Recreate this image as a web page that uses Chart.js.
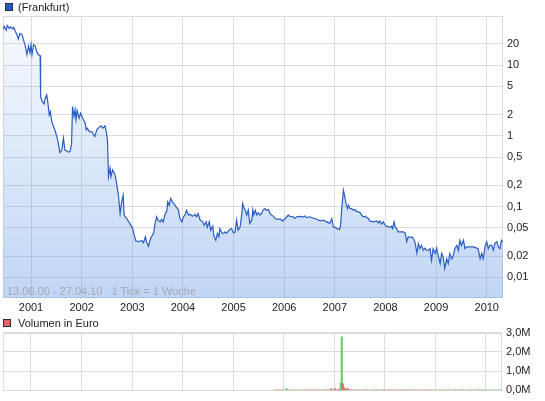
<!DOCTYPE html>
<html lang="de">
<head>
<meta charset="UTF-8">
<title>(Frankfurt)</title>
<script src="https://cdn.jsdelivr.net/npm/chart.js"></script>
<style>
  body { margin: 0; width: 545px; height: 401px; background: #fff; position: relative; overflow: hidden;
         font-family: "Liberation Sans", Arial, sans-serif; }
  canvas { position: absolute; left: 0; }
  #c1 { top: 0; }
  #c2 { top: 316px; }
  .lg { position: absolute; left: 18px; font-size: 11px; line-height: 12px; color: #222; }
  .box { position: absolute; width: 6px; height: 6px; border: 1px solid #2a2a3a; }
  #note { position: absolute; left: 7px; top: 285px; font-size: 11px; line-height: 12px; color: #a3a8b0; white-space: pre; }
</style>
</head>
<body>
<canvas id="c1" width="545" height="316"></canvas>
<canvas id="c2" width="545" height="85"></canvas>
<div class="box" style="left:5px; top:3px; background:#1f5cc4;"></div>
<div class="lg" style="top:1px;">(Frankfurt)</div>
<div class="box" style="left:3px; top:319px; background:#e06666;"></div>
<div class="lg" style="top:317px;">Volumen in Euro</div>
<div id="note">13.06.00 - 27.04.10   1 Tick = 1 Woche</div>

<script>
// x range of both panels (decimal years, 13.06.2000 .. 27.04.2010)
const xMin = 2000.447;
const xMax = 2010.321;
const yearTicks = [2001, 2002, 2003, 2004, 2005, 2006, 2007, 2008, 2009, 2010];
const priceTicks = [0.01, 0.02, 0.05, 0.1, 0.2, 0.5, 1, 2, 5, 10, 20];

// weekly closing price
const priceYears = [
  2000.45, 2000.47, 2000.51, 2000.53, 2000.57, 2000.60, 2000.64, 2000.66, 2000.69, 2000.72,
  2000.75, 2000.78, 2000.82, 2000.85, 2000.88, 2000.92, 2000.95, 2000.98, 2001.00, 2001.02,
  2001.05, 2001.08, 2001.11, 2001.14, 2001.18, 2001.19, 2001.22, 2001.26, 2001.28, 2001.31,
  2001.33, 2001.36, 2001.38, 2001.41, 2001.44, 2001.47, 2001.51, 2001.54, 2001.57, 2001.61,
  2001.64, 2001.67, 2001.70, 2001.74, 2001.77, 2001.80, 2001.82, 2001.85, 2001.87, 2001.89,
  2001.91, 2001.95, 2001.98, 2002.02, 2002.07, 2002.09, 2002.11, 2002.15, 2002.20, 2002.24,
  2002.26, 2002.30, 2002.33, 2002.38, 2002.42, 2002.46, 2002.48, 2002.51, 2002.53, 2002.56,
  2002.58, 2002.61, 2002.65, 2002.68, 2002.70, 2002.73, 2002.76, 2002.79, 2002.82, 2002.84,
  2002.89, 2002.95, 2003.01, 2003.03, 2003.07, 2003.12, 2003.19, 2003.22, 2003.26, 2003.28,
  2003.32, 2003.35, 2003.38, 2003.42, 2003.45, 2003.48, 2003.51, 2003.55, 2003.58, 2003.61,
  2003.65, 2003.68, 2003.70, 2003.73, 2003.76, 2003.80, 2003.82, 2003.86, 2003.91, 2003.94,
  2003.98, 2004.01, 2004.04, 2004.07, 2004.11, 2004.14, 2004.19, 2004.24, 2004.27, 2004.30,
  2004.34, 2004.39, 2004.42, 2004.46, 2004.48, 2004.52, 2004.55, 2004.59, 2004.61, 2004.65,
  2004.68, 2004.71, 2004.73, 2004.77, 2004.80, 2004.83, 2004.86, 2004.90, 2004.93, 2004.96,
  2005.00, 2005.03, 2005.06, 2005.09, 2005.13, 2005.16, 2005.18, 2005.21, 2005.23, 2005.26,
  2005.29, 2005.32, 2005.36, 2005.38, 2005.40, 2005.43, 2005.46, 2005.49, 2005.52, 2005.55,
  2005.59, 2005.62, 2005.65, 2005.69, 2005.72, 2005.75, 2005.79, 2005.82, 2005.85, 2005.92,
  2005.97, 2006.02, 2006.05, 2006.08, 2006.11, 2006.18, 2006.21, 2006.25, 2006.31, 2006.38,
  2006.41, 2006.44, 2006.51, 2006.58, 2006.61, 2006.64, 2006.71, 2006.77, 2006.84, 2006.90,
  2006.94, 2006.97, 2007.00, 2007.04, 2007.09, 2007.11, 2007.14, 2007.17, 2007.19, 2007.22,
  2007.25, 2007.27, 2007.30, 2007.33, 2007.37, 2007.40, 2007.43, 2007.46, 2007.50, 2007.53,
  2007.56, 2007.60, 2007.63, 2007.66, 2007.69, 2007.76, 2007.83, 2007.86, 2007.89, 2007.92,
  2007.96, 2007.99, 2008.02, 2008.06, 2008.09, 2008.12, 2008.14, 2008.17, 2008.19, 2008.22,
  2008.25, 2008.29, 2008.35, 2008.39, 2008.42, 2008.45, 2008.48, 2008.52, 2008.55, 2008.58,
  2008.62, 2008.65, 2008.68, 2008.71, 2008.75, 2008.78, 2008.81, 2008.85, 2008.88, 2008.91,
  2008.94, 2008.98, 2009.01, 2009.04, 2009.08, 2009.11, 2009.14, 2009.17, 2009.21, 2009.24,
  2009.27, 2009.31, 2009.34, 2009.37, 2009.41, 2009.44, 2009.47, 2009.50, 2009.54, 2009.57,
  2009.60, 2009.67, 2009.74, 2009.80, 2009.83, 2009.87, 2009.90, 2009.93, 2009.97, 2010.00,
  2010.03, 2010.06, 2010.10, 2010.13, 2010.16, 2010.20, 2010.23, 2010.26, 2010.29, 2010.32
];
const priceValues = [
  31.9, 35.5, 31.2, 36.3, 33.2, 34.8, 32.6, 34.0, 30.2, 27.1,
  23.4, 28.0, 27.1, 23.0, 19.5, 14.1, 18.5, 14.9, 19.5, 14.1,
  19.5, 18.9, 15.7, 14.1, 13.6, 3.6, 3.07, 2.84, 3.42, 3.8,
  3.07, 1.99, 2.21, 1.60, 1.39, 1.22, 0.98, 0.79, 0.58, 0.63,
  0.93, 0.63, 0.62, 0.59, 0.60, 0.75, 2.60, 1.88, 2.34, 1.69,
  2.29, 1.78, 2.10, 1.78, 1.51, 1.22, 1.29, 1.15, 1.15, 1.03,
  0.98, 1.22, 1.29, 1.39, 1.29, 1.39, 1.22, 0.88, 0.265, 0.35,
  0.265, 0.33, 0.295, 0.238, 0.19, 0.138, 0.08, 0.117, 0.146, 0.076,
  0.068, 0.058, 0.049, 0.042, 0.033, 0.032, 0.033, 0.031, 0.0375, 0.032,
  0.0275, 0.0335, 0.0375, 0.042, 0.058, 0.072, 0.064, 0.061, 0.066, 0.061,
  0.080, 0.085, 0.117, 0.105, 0.131, 0.114, 0.111, 0.100, 0.091, 0.068,
  0.061, 0.072, 0.076, 0.089, 0.076, 0.078, 0.073, 0.078, 0.072, 0.080,
  0.0644, 0.061, 0.0547, 0.061, 0.051, 0.061, 0.0464, 0.053, 0.039, 0.0335,
  0.042, 0.0375, 0.049, 0.0425, 0.042, 0.044, 0.042, 0.0455, 0.0475, 0.049,
  0.0425, 0.044, 0.0644, 0.0464, 0.052, 0.076, 0.111, 0.094, 0.089, 0.076,
  0.089, 0.058, 0.0644, 0.091, 0.076, 0.089, 0.076, 0.082, 0.076, 0.080,
  0.091, 0.094, 0.089, 0.091, 0.080, 0.076, 0.073, 0.068, 0.0665, 0.0665,
  0.063, 0.068, 0.072, 0.076, 0.073, 0.072, 0.068, 0.072, 0.073, 0.072,
  0.074, 0.070, 0.072, 0.068, 0.068, 0.0665, 0.063, 0.0644, 0.061, 0.058,
  0.068, 0.052, 0.051, 0.049, 0.0475, 0.052, 0.100, 0.171, 0.146, 0.111,
  0.094, 0.105, 0.094, 0.094, 0.089, 0.091, 0.085, 0.085, 0.082, 0.076,
  0.072, 0.073, 0.070, 0.068, 0.063, 0.061, 0.063, 0.059, 0.063, 0.0565,
  0.061, 0.0547, 0.053, 0.052, 0.051, 0.053, 0.049, 0.061, 0.052, 0.049,
  0.044, 0.044, 0.044, 0.0425, 0.032, 0.0375, 0.037, 0.0375, 0.0355, 0.032,
  0.022, 0.030, 0.0255, 0.0284, 0.0242, 0.026, 0.0242, 0.0242, 0.0255, 0.0174,
  0.0255, 0.0218, 0.026, 0.0206, 0.0157, 0.0218, 0.0195, 0.0133, 0.0184, 0.0157,
  0.0218, 0.0184, 0.0206, 0.0255, 0.0284, 0.0242, 0.0335, 0.0284, 0.0335, 0.0255,
  0.027, 0.027, 0.027, 0.026, 0.0255, 0.0184, 0.0218, 0.0184, 0.0284, 0.032,
  0.0255, 0.0284, 0.0284, 0.0242, 0.030, 0.032, 0.027, 0.0255, 0.0335, 0.032
];

// weekly volume in million euro, 1 = week closed up (green), 0 = down (red)
const volYears = [
  2005.82, 2005.87, 2005.92, 2005.97, 2006.02, 2006.06, 2006.11, 2006.16, 2006.21, 2006.26,
  2006.31, 2006.36, 2006.41, 2006.46, 2006.51, 2006.56, 2006.61, 2006.66, 2006.71, 2006.76,
  2006.81, 2006.86, 2006.90, 2006.94, 2006.98, 2007.02, 2007.06, 2007.10, 2007.13, 2007.15,
  2007.17, 2007.19, 2007.21, 2007.23, 2007.26, 2007.30, 2007.35, 2007.40, 2007.45, 2007.50,
  2007.55, 2007.60, 2007.65, 2007.70, 2007.75, 2007.80, 2007.85, 2007.90, 2007.95, 2008.00,
  2008.05, 2008.10, 2008.15, 2008.20, 2008.25, 2008.30, 2008.35, 2008.40, 2008.45, 2008.50,
  2008.55, 2008.60, 2008.65, 2008.70, 2008.75, 2008.80, 2008.85, 2008.90, 2008.95, 2009.00,
  2009.05, 2009.10, 2009.15, 2009.20, 2009.25, 2009.30, 2009.35, 2009.40, 2009.45, 2009.50,
  2009.55, 2009.60, 2009.65, 2009.70, 2009.75, 2009.80, 2009.85, 2009.90, 2009.95, 2010.00,
  2010.05, 2010.10, 2010.15, 2010.20, 2010.25, 2010.30
];
const volValues = [
  0.03, 0.03, 0.02, 0.03, 0.03, 0.10, 0.03, 0.02, 0.03, 0.03,
  0.02, 0.03, 0.03, 0.02, 0.03, 0.03, 0.02, 0.03, 0.03, 0.02,
  0.03, 0.03, 0.02, 0.10, 0.03, 0.08, 0.03, 0.05, 0.39, 2.78,
  0.34, 0.14, 0.07, 0.05, 0.10, 0.04, 0.03, 0.03, 0.02, 0.03,
  0.03, 0.02, 0.03, 0.03, 0.02, 0.03, 0.03, 0.02, 0.03, 0.03,
  0.02, 0.03, 0.03, 0.02, 0.03, 0.03, 0.02, 0.03, 0.03, 0.02,
  0.03, 0.03, 0.02, 0.03, 0.03, 0.02, 0.03, 0.03, 0.02, 0.03,
  0.03, 0.02, 0.03, 0.03, 0.02, 0.03, 0.03, 0.02, 0.03, 0.03,
  0.02, 0.03, 0.03, 0.02, 0.03, 0.03, 0.02, 0.03, 0.03, 0.02,
  0.03, 0.03, 0.02, 0.03, 0.03, 0.02
];
const volUp = [
  0, 1, 0, 0, 1, 1, 1, 0, 0, 1,
  1, 1, 0, 0, 0, 1, 0, 0, 0, 1,
  0, 0, 0, 1, 0, 0, 0, 0, 1, 1,
  0, 0, 0, 1, 0, 0, 0, 1, 0, 0,
  1, 0, 0, 1, 0, 0, 0, 1, 0, 0,
  1, 0, 0, 0, 1, 0, 0, 1, 0, 0,
  0, 1, 0, 0, 1, 0, 0, 0, 1, 1,
  0, 0, 1, 0, 1, 1, 0, 0, 1, 0,
  0, 1, 0, 0, 1, 0, 0, 1, 0, 1,
  0, 1, 1, 1, 1, 1
];

const gridColor = '#dcdcdc';
const labelFont = { family: '"Liberation Sans", Arial, sans-serif', size: 11 };
const yearFont = { family: '"Liberation Sans Narrow", "Liberation Sans", Arial, sans-serif', size: 11 };

// grey box round the plot area
const frame = {
  id: 'frame',
  beforeDatasetsDraw(chart) {
    const a = chart.chartArea, c = chart.ctx;
    c.save();
    c.strokeStyle = gridColor;
    c.lineWidth = 1;
    c.strokeRect(Math.round(a.left) + 0.5, Math.round(a.top) + 0.5,
                 Math.round(a.right - a.left) - 1, Math.round(a.bottom - a.top) - 1);
    c.restore();
  }
};

function yearAxis(showLabels, height) {
  return {
    type: 'linear', min: xMin, max: xMax, offset: false,
    afterBuildTicks: s => { s.ticks = yearTicks.map(v => ({ value: v })); },
    ticks: { display: showLabels, autoSkip: false, maxRotation: 0, padding: 3,
             color: '#222', font: yearFont, callback: v => String(v) },
    grid: { color: gridColor, drawTicks: false, offset: false },
    border: { display: false },
    afterFit: s => { s.height = height; }
  };
}

new Chart(document.getElementById('c1').getContext('2d'), {
  type: 'line',
  data: {
    datasets: [{
      data: priceYears.map((t, i) => ({ x: t, y: priceValues[i] })),
      borderColor: '#2b5ec2',
      borderWidth: 1.2,
      pointRadius: 0,
      tension: 0,
      fill: 'start',
      backgroundColor: ctx => {
        const a = ctx.chart.chartArea;
        if (!a) return 'rgba(98,152,230,0.2)';
        const g = ctx.chart.ctx.createLinearGradient(0, a.top, 0, a.bottom);
        g.addColorStop(0, 'rgba(98,152,230,0.04)');
        g.addColorStop(1, 'rgba(98,152,230,0.40)');
        return g;
      }
    }]
  },
  options: {
    responsive: false,
    animation: false,
    layout: { padding: { left: 3, top: 16, right: 0, bottom: 0 } },
    plugins: { legend: { display: false }, tooltip: { enabled: false } },
    scales: {
      x: yearAxis(true, 18),
      y: {
        type: 'logarithmic', position: 'right', min: 0.00512, max: 49.5,
        afterBuildTicks: s => { s.ticks = priceTicks.map(v => ({ value: v })); },
        ticks: { padding: 4, color: '#222', font: labelFont,
                 callback: v => String(v).replace('.', ',') },
        grid: { color: gridColor, drawTicks: false },
        border: { display: false },
        afterFit: s => { s.width = 42; }
      }
    }
  },
  plugins: [frame]
});

new Chart(document.getElementById('c2').getContext('2d'), {
  type: 'bar',
  data: {
    datasets: [{
      data: volYears.map((t, i) => ({ x: t, y: volValues[i] })),
      backgroundColor: volUp.map(u => u ? '#66cc66' : '#e06666'),
      barThickness: 1.5,
      grouped: false
    }]
  },
  options: {
    responsive: false,
    animation: false,
    layout: { padding: { left: 3, top: 16.5, right: 0, bottom: 0 } },
    plugins: { legend: { display: false }, tooltip: { enabled: false } },
    scales: {
      x: yearAxis(false, 9.5),
      y: {
        position: 'right', min: 0, max: 3,
        ticks: { stepSize: 1, padding: 4, color: '#222', font: labelFont,
                 callback: v => v.toFixed(1).replace('.', ',') + 'M' },
        grid: { color: gridColor, drawTicks: false },
        border: { display: false },
        afterFit: s => { s.width = 43; }
      }
    }
  },
  plugins: [frame]
});
</script>
</body>
</html>
